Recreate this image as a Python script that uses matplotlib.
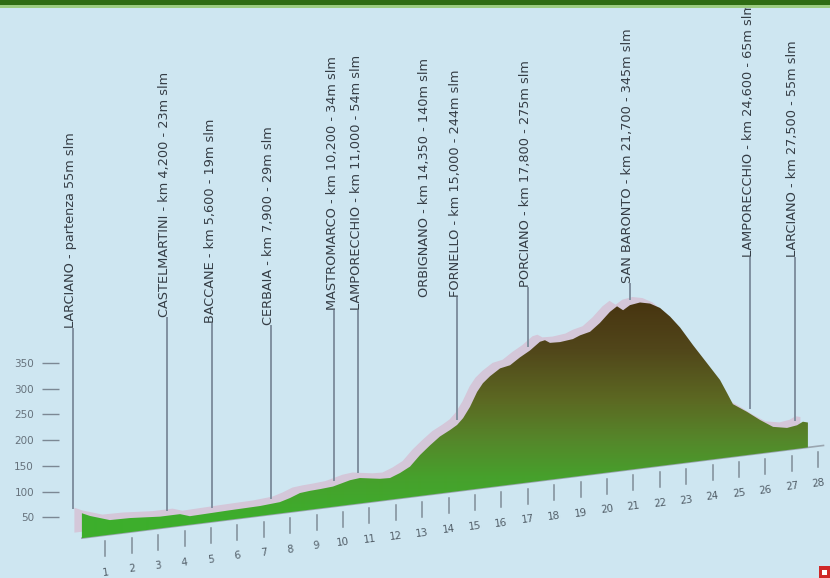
import numpy as np
import matplotlib
matplotlib.use("Agg")
import matplotlib.pyplot as plt
from matplotlib.transforms import Affine2D, offset_copy
from matplotlib.colors import LinearSegmentedColormap
from matplotlib.patches import Rectangle

# profilo altimetrico: progressiva (km) e quota (m)
km = [0.11, 0.42, 1.17, 1.93, 3.07, 3.83, 4.20, 4.96, 5.72, 6.86, 7.61, 7.99, 8.37,
      8.75, 9.13, 9.62, 10.27, 10.64, 11.40, 11.78, 12.16, 12.54, 12.92, 13.30,
      13.67, 14.05, 14.32, 14.55, 14.81, 15.08, 15.30, 15.57, 15.95, 16.33, 16.70,
      17.08, 17.46, 17.65, 17.84, 18.22, 18.71, 18.98, 19.36, 19.73, 20.11, 20.38,
      20.61, 20.87, 21.25, 21.63, 22.01, 22.39, 22.77, 23.26, 23.79, 24.28, 24.55,
      24.77, 25.30, 25.80, 26.29, 26.82, 27.20, 27.42, 27.61]
quota = [53, 45, 31, 30, 25, 25, 18, 19, 20, 21, 24, 30, 38,
         40, 41, 43, 52, 54, 47, 46, 54, 65, 87, 105,
         121, 132, 141, 154, 176, 206, 223, 236, 250, 254, 268,
         280, 296, 298, 291, 290, 293, 299, 304, 320, 341, 351,
         341, 350, 353, 348, 336, 315, 289, 248, 206, 167, 137,
         112, 92, 71, 53, 47, 50, 56, 53]

# località lungo il percorso
tappe = ["LARCIANO - partenza 55m slm",
         "CASTELMARTINI - km 4,200 - 23m slm",
         "BACCANE - km 5,600 - 19m slm",
         "CERBAIA - km 7,900 - 29m slm",
         "MASTROMARCO - km 10,200 - 34m slm",
         "LAMPORECCHIO - km 11,000 - 54m slm",
         "ORBIGNANO - km 14,350 - 140m slm",
         "FORNELLO - km 15,000 - 244m slm",
         "PORCIANO - km 17,800 - 275m slm",
         "SAN BARONTO - km 21,700 - 345m slm",
         "LAMPORECCHIO - km 24,600 - 65m slm",
         "LARCIANO - km 27,500 - 55m slm"]
tappe_km = [-0.23, 3.33, 5.04, 7.27, 9.66, 10.57, 13.18, 14.32, 17.0, 20.87, 25.42, 27.12]
tappe_linea = [True, True, True, True, True, True, False, True, True, True, True, True]

km_ticks = list(range(1, 29))
quote_ticks = [50, 100, 150, 200, 250, 300, 350]

# piede delle etichette (unita' asse verticale)
etich_y = [448, 471, 458, 454, 486, 486, 514, 514, 535, 544, 599, 599]

PEND = 7.02  # prospettiva: la base sale verso destra
SCOSTA = 13  # spessore dell'ombra lilla sopra il profilo

fig = plt.figure(figsize=(8.3, 5.78), dpi=100)
fig.patch.set_facecolor("#cee6f1")
ax = fig.add_axes([0, 0, 1, 1])
ax.set_facecolor("#cee6f1")
ax.axis("off")

skew = Affine2D(np.array([[1, 0, 0], [PEND, 1, 0], [0, 0, 1]])) + ax.transData
ombra = offset_copy(skew, fig=fig, x=-8, y=6, units="dots")

# linea di base grigia
ax.plot([km[0], 28.2], [0, 0], color="#9aa6b0", lw=1.2, transform=skew, zorder=1)

# ombra lilla
ax.fill_between(km, 0, quota, transform=ombra, color="#d4c7d9", lw=0, zorder=2)

# profilo con sfumatura marrone -> verde
poly = ax.fill_between(km, 0, quota, transform=skew, color="none", lw=0, zorder=3)
terra = LinearSegmentedColormap.from_list(
    "terra", [(0, "#473410"), (0.22, "#51461a"), (0.45, "#5c6822"),
              (0.63, "#55862a"), (0.8, "#47a02c"), (1, "#3dae2c")])
grad = np.clip((np.arange(578) - 300) / 220.0, 0, 1)[:, None]
im = ax.imshow(grad, extent=[0, 1, 0, 1], transform=ax.transAxes, aspect="auto",
               cmap=terra, origin="upper", zorder=3, interpolation="bilinear")
im.set_clip_path(poly.get_paths()[0], skew)

# tacche chilometriche
for k in km_ticks:
    ax.plot([k, k], [-13, -45], color="#7f8c97", lw=1.1, transform=skew, zorder=4)
    ax.text(k, -79, str(k), transform=skew, ha="center", va="center",
            fontsize=7.3, color="#525e68", rotation=7)

# linee e nomi delle località
testo_tr = offset_copy(ax.transData, fig=fig, x=-2, y=0, units="dots")
for nome, k, yl, linea in zip(tappe, tappe_km, etich_y, tappe_linea):
    if linea:
        base = np.interp(k, km, quota) + PEND * k + SCOSTA
        ax.plot([k, k], [base, yl - 2], color="#8090a0", lw=1.4, zorder=4)
    ax.text(k, yl, nome, transform=testo_tr, rotation=90, ha="center", va="bottom",
            fontsize=9.3, color="#353d45", family="DejaVu Sans")

ax.set_xlim(-2.992, 28.447)
ax.set_ylim(-84.0, 1145.7)

# scala delle quote a sinistra
axl = fig.add_axes([59 / 830, 0, 1 / 830, 1])
axl.patch.set_alpha(0)
axl.set_ylim(-68.1, 1056.4)
axl.set_yticks(quote_ticks)
axl.set_yticklabels([str(q) for q in quote_ticks])
axl.set_xticks([])
for s in axl.spines.values():
    s.set_visible(False)
axl.tick_params(axis="y", direction="out", length=12, width=1, color="#7c8894",
                pad=6, labelsize=7.5, labelcolor="#66727c")

# fascia verde in alto e icona in basso a destra
fig.add_artist(Rectangle((0, 1 - 5 / 578), 1, 5 / 578, transform=fig.transFigure,
                         color="#2f6c12", lw=0))
fig.add_artist(Rectangle((0, 1 - 8 / 578), 1, 3 / 578, transform=fig.transFigure,
                         color="#9ccc80", lw=0))
fig.add_artist(Rectangle((819 / 830, 0), 11 / 830, 12 / 578, transform=fig.transFigure,
                         color="#d02828", lw=0))
fig.add_artist(Rectangle((822 / 830, 3 / 578), 5 / 830, 5 / 578, transform=fig.transFigure,
                         color="#ffffff", lw=0))

fig.savefig("out.png", dpi=100, facecolor=fig.get_facecolor())
